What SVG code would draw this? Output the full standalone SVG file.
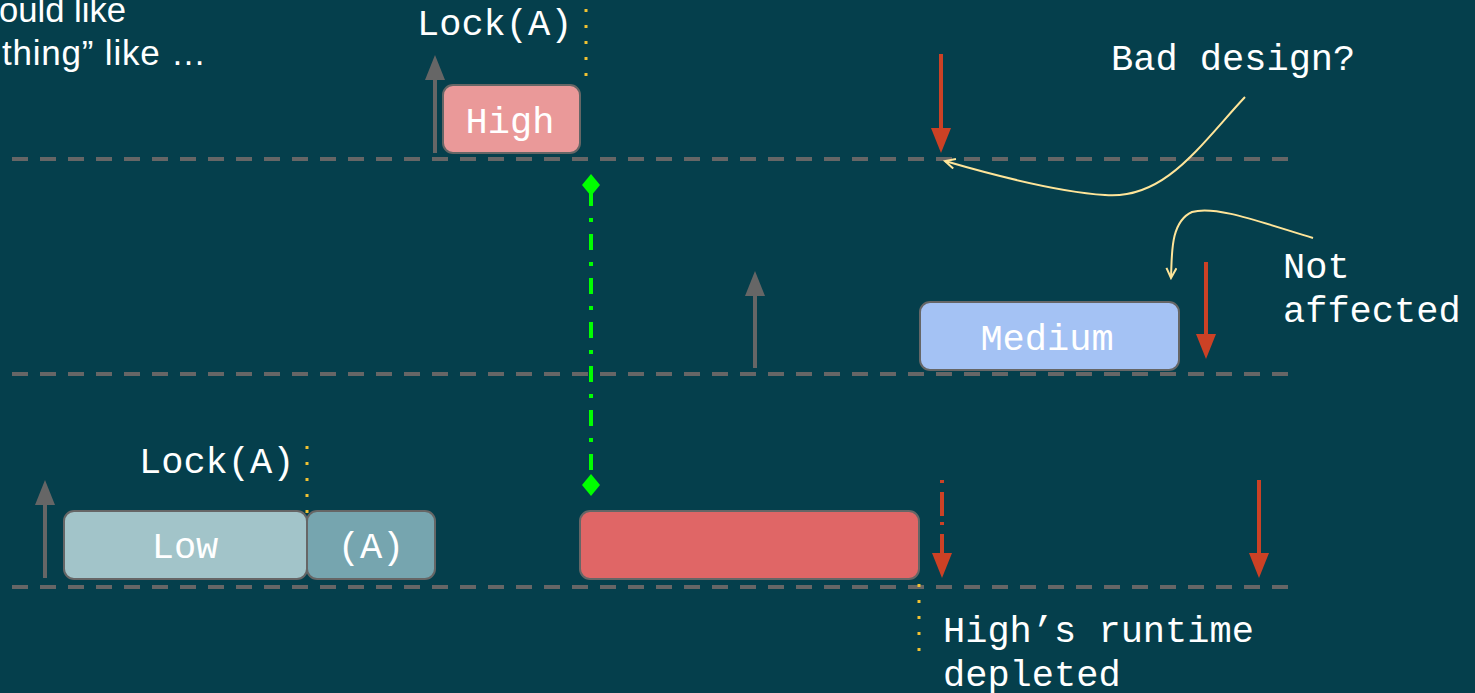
<svg xmlns="http://www.w3.org/2000/svg" width="1475" height="693" viewBox="0 0 1475 693">
<style>
.mono{font-family:"Courier New","Liberation Mono",monospace;font-size:37px;fill:#ffffff}
.sans{font-family:"Liberation Sans",Arial,sans-serif;font-size:35px;fill:#ffffff}
.lane{stroke:#666666;stroke-width:4;stroke-dasharray:16 12;fill:none}
.box{stroke:#666666;stroke-width:2}
.gray{stroke:#666666;stroke-width:4;fill:none}
.red{stroke:#cc4125;stroke-width:4;fill:none}
.dot{stroke:#f1c232;stroke-width:3;stroke-dasharray:3 13;fill:none}
.curve{stroke:#ffe599;stroke-width:2;fill:none}
</style>
<defs>
<marker id="hg" markerUnits="userSpaceOnUse" markerWidth="26" markerHeight="20" viewBox="0 0 26 20" refX="0" refY="10" orient="auto"><path d="M0,0 L25,10 L0,20 z" fill="#666666"/></marker>
<marker id="hr" markerUnits="userSpaceOnUse" markerWidth="26" markerHeight="20" viewBox="0 0 26 20" refX="0" refY="10" orient="auto"><path d="M0,0 L25,10 L0,20 z" fill="#cc4125"/></marker>
<marker id="hy" markerUnits="userSpaceOnUse" markerWidth="14" markerHeight="12" viewBox="0 0 14 12" refX="12" refY="6" orient="auto"><path d="M2,1 L12,6 L2,11" fill="none" stroke="#ffe599" stroke-width="2"/></marker>
</defs>
<rect x="0" y="0" width="1475" height="693" fill="#053f4c"/>
<g id="title">
<text class="sans" x="-1" y="22" textLength="127" lengthAdjust="spacingAndGlyphs">ould like</text>
<text class="sans" x="2" y="65" textLength="204" lengthAdjust="spacing">thing” like …</text>
</g>
<g id="lanes">
<line class="lane" x1="12" y1="159" x2="1288" y2="159"/>
<line class="lane" x1="12" y1="374" x2="1288" y2="374"/>
<line class="lane" x1="12" y1="587" x2="1288" y2="587"/>
</g>
<g id="node-high">
<rect class="box" x="443" y="85" width="137" height="68" rx="10" fill="#ea9999"/>
<text class="mono" x="510" y="133" text-anchor="middle">High</text>
</g>
<g id="node-medium">
<rect class="box" x="920" y="302" width="259" height="68" rx="10" fill="#a4c2f4"/>
<text class="mono" x="1047" y="350" text-anchor="middle">Medium</text>
</g>
<g id="node-low">
<rect class="box" x="64" y="511" width="243" height="68" rx="10" fill="#a2c4c9"/>
<text class="mono" x="185" y="558" text-anchor="middle">Low</text>
</g>
<g id="node-a">
<rect class="box" x="307" y="511" width="128" height="68" rx="10" fill="#76a5af"/>
<text class="mono" x="371" y="558" text-anchor="middle">(A)</text>
</g>
<g id="node-red">
<rect class="box" x="580" y="511" width="339" height="68" rx="10" fill="#e06666"/>
</g>
<g id="labels">
<text class="mono" x="417" y="35">Lock(A)</text>
<text class="mono" x="139" y="473">Lock(A)</text>
<text class="mono" x="1111" y="70">Bad design?</text>
<text class="mono" x="1283" y="278">Not</text>
<text class="mono" x="1283" y="322">affected</text>
<text class="mono" x="943" y="642">High’s runtime</text>
<text class="mono" x="943" y="686">depleted</text>
</g>
<g id="connectors">
<line class="dot" x1="586" y1="9" x2="586" y2="78"/>
<line class="dot" x1="307" y1="446" x2="307" y2="513"/>
<line class="dot" x1="919" y1="584" x2="919" y2="652"/>
<line class="gray" x1="435" y1="153" x2="435" y2="80" marker-end="url(#hg)"/>
<line class="gray" x1="755" y1="368" x2="755" y2="296" marker-end="url(#hg)"/>
<line class="gray" x1="45" y1="578" x2="45" y2="505" marker-end="url(#hg)"/>
<line class="red" x1="941" y1="54" x2="941" y2="128" marker-end="url(#hr)"/>
<line class="red" x1="1206" y1="262" x2="1206" y2="334" marker-end="url(#hr)"/>
<line class="red" x1="942" y1="480" x2="942" y2="553" stroke-dasharray="3 9 24 6" marker-end="url(#hr)"/>
<line class="red" x1="1259" y1="480" x2="1259" y2="553" marker-end="url(#hr)"/>
<line x1="591" y1="190" x2="591" y2="482" stroke="#00ff00" stroke-width="4" stroke-dasharray="16 12 4 12"/>
<polygon points="591,174 600,185 591,196 582,185" fill="#00ff00"/>
<polygon points="591,474 600,485 591,496 582,485" fill="#00ff00"/>
<path class="curve" d="M1245,97 C1200,145 1165,200 1105,195 C1060,192 1000,177 945,161" marker-end="url(#hy)"/>
<path class="curve" d="M1313,238 C1260,222 1215,205 1192,212 C1170,222 1172,255 1171,278" marker-end="url(#hy)"/>
</g>
</svg>
